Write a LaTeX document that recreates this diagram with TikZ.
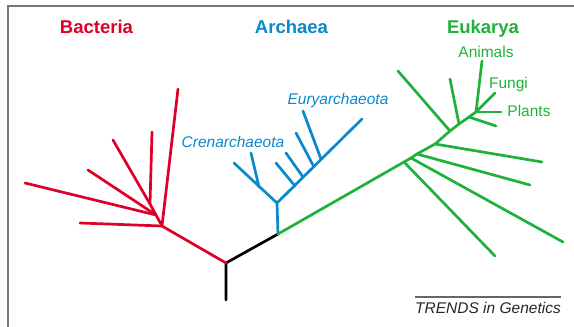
\documentclass[tikz,border=0pt]{standalone}
\usepackage{fontspec}
\setmainfont{Liberation Sans}
\definecolor{bact}{RGB}{222,0,40}
\definecolor{arch}{RGB}{10,136,204}
\definecolor{euk}{RGB}{30,178,58}
\definecolor{framecol}{RGB}{120,120,120}
\begin{document}
\begin{tikzpicture}[x=1pt,y=-1pt,
  br/.style={line width=2.7pt,line cap=round},
  domlabel/.style={font=\fontsize{18.5}{21}\selectfont\bfseries,anchor=base,inner sep=0pt},
  grplabel/.style={font=\fontsize{15.5}{18}\selectfont,anchor=base,inner sep=0pt},
  igrplabel/.style={font=\fontsize{15.5}{18}\selectfont\itshape,anchor=base,inner sep=0pt}]
\useasboundingbox (0,0) rectangle (574,327);
% frame
\draw[framecol,line width=1.5pt] (8,327) -- (8,6) -- (574,6);
% labels
\node[domlabel,text=bact] (lb) at (96.5,33) {Bacteria};
\node[domlabel,text=arch] (la) at (291.5,33) {Archaea};
\node[domlabel,text=euk] (le) at (483,33) {Eukarya};
\node[grplabel,text=euk] (lan) at (486,57) {Animals};
\node[grplabel,text=euk] (lfu) at (508.5,88) {Fungi};
\node[grplabel,text=euk] (lpl) at (529,116) {Plants};
\node[igrplabel,text=arch] (leu) at (338,104) {Euryarchaeota};
\node[igrplabel,text=arch] (lcr) at (233,147) {Crenarchaeota};
\node[igrplabel,text=black!85] (ltr) at (488,313) {TRENDS in Genetics};
\draw[black!60,line width=1.2pt] (ltr.west |- 0,297) -- (ltr.east |- 0,297);
% root
\coordinate (root) at (226,300);
\coordinate (R) at (226,263);
\coordinate (AE) at (278,234);
\draw[br,black] (root) -- (R) -- (AE);
% bacteria
\coordinate (M) at (162,226);
\coordinate (B) at (156,215);
\coordinate (A) at (150,204);
\coordinate (b1) at (178,89);
\coordinate (b2) at (80,223);
\coordinate (b3) at (25,183);
\coordinate (b4) at (88,170);
\coordinate (b5) at (113,140);
\coordinate (b6) at (152,132);
\draw[br,bact] (R) -- (M) -- (b1);
\draw[br,bact] (M) -- (b2);
\draw[br,bact] (M) -- (B) -- (A) -- (b5);
\draw[br,bact] (B) -- (b3);
\draw[br,bact] (B) -- (b4);
\draw[br,bact] (A) -- (b6);
% archaea
\coordinate (a0) at (277,203);
\coordinate (ac) at (234,163);
\coordinate (ac1) at (259,187);
\coordinate (ac1e) at (251,153);
\coordinate (ae) at (362,119);
\coordinate (ae1) at (295,186);
\coordinate (ae1e) at (276,163);
\coordinate (ae2) at (303,177);
\coordinate (ae2e) at (286,153);
\coordinate (ae3) at (314,167);
\coordinate (ae3e) at (296,133);
\coordinate (ae4) at (321,159);
\coordinate (ae4e) at (303,111);
\draw[br,arch] (AE) -- (a0) -- (ac);
\draw[br,arch] (ac1) -- (ac1e);
\draw[br,arch] (a0) -- (ae);
\draw[br,arch] (ae1) -- (ae1e);
\draw[br,arch] (ae2) -- (ae2e);
\draw[br,arch] (ae3) -- (ae3e);
\draw[br,arch] (ae4) -- (ae4e);
% eukarya
\coordinate (g1) at (404,162);
\coordinate (g2) at (411,158);
\coordinate (g3) at (417,154);
\coordinate (g4) at (435,144);
\coordinate (g5) at (450,131);
\coordinate (g6) at (459,124);
\coordinate (g7) at (469,117);
\coordinate (g8) at (476,112);
\coordinate (e1) at (495,256);
\coordinate (e2) at (563,242);
\coordinate (e3) at (530,185);
\coordinate (e4) at (542,162);
\coordinate (e5) at (398,71);
\coordinate (e6) at (450,79);
\coordinate (e7) at (496,126);
\coordinate (ean) at (482,61);
\coordinate (efu) at (495,93);
\coordinate (epl) at (501,112);
\draw[br,euk] (AE) -- (g1) -- (g2) -- (g3) -- (g4) -- (g5) -- (g6) -- (g7) -- (g8) -- (ean);
\draw[br,euk] (g1) -- (e1);
\draw[br,euk] (g2) -- (e2);
\draw[br,euk] (g3) -- (e3);
\draw[br,euk] (g4) -- (e4);
\draw[br,euk] (g5) -- (e5);
\draw[br,euk] (g6) -- (e6);
\draw[br,euk] (g7) -- (e7);
\draw[br,euk] (g8) -- (efu);
\draw[br,euk] (g8) -- (epl);
\end{tikzpicture}
\end{document}
